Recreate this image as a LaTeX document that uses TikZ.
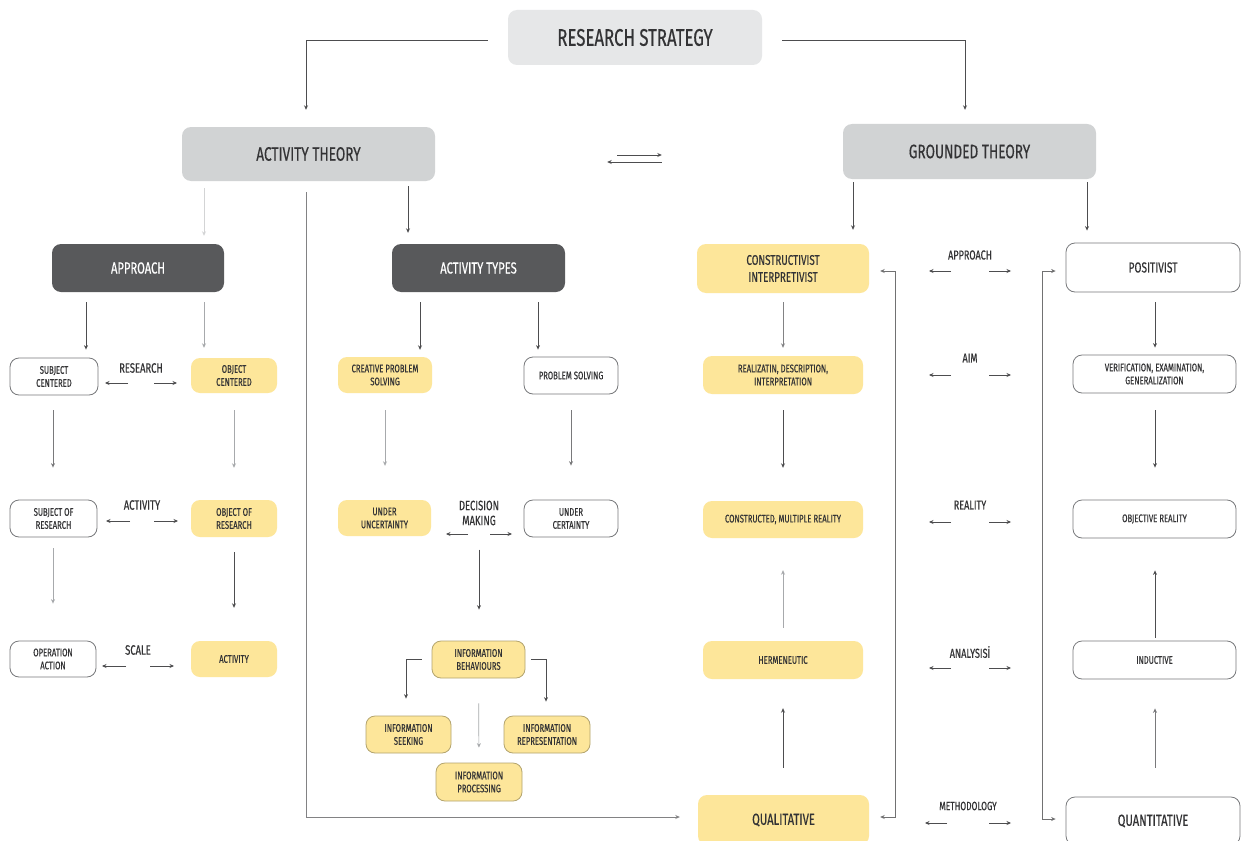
\documentclass[tikz,border=0pt]{standalone}
\usepackage{fontspec}
\setmainfont{Fira Sans}[FakeStretch=0.7,FakeBold=0.4]
\usetikzlibrary{arrows.meta,calc}
\definecolor{lg}{HTML}{E6E7E8}
\definecolor{mg}{HTML}{D1D3D4}
\definecolor{dg}{HTML}{58595B}
\definecolor{yl}{HTML}{FDE69A}
\definecolor{tx}{HTML}{333335}
\definecolor{bd}{HTML}{77787B}
\definecolor{ybd}{HTML}{B3A46E}
\definecolor{ln}{HTML}{4D4D4F}
\definecolor{lln}{HTML}{A7A9AC}
\newcommand\fs[2]{\fontsize{#1}{#2}\selectfont}
\newcommand\dbl[4]{%
  \draw[arr] ($(#1)+(-#3,#2)$) -- ($(#1)+(-#4,#2)$);
  \draw[arr] ($(#1)+(#3,#2)$) -- ($(#1)+(#4,#2)$);}
\begin{document}
\begin{tikzpicture}[x=1pt,y=-1pt,
  box/.style={rounded corners=9pt, align=center, inner sep=0pt, text=tx},
  topbox/.style={box, fill=lg, font=\fs{24}{27}},
  thbox/.style={box, fill=mg, font=\fs{19.5}{22}},
  dkbox/.style={box, fill=dg, text=white, font=\fs{16}{18}},
  ybox/.style={box, fill=yl, font=\fs{11}{13}},
  wbox/.style={box, draw=bd, line width=0.8pt, fill=white, font=\fs{11}{13}},
  ibox/.style={box, fill=yl, draw=ybd, line width=0.8pt, font=\fs{11}{13}},
  lab/.style={text=tx, align=center, inner sep=0pt, font=\fs{13.5}{15}},
  arr/.style={-{Stealth[length=4.5pt,width=4pt]}, line width=0.7pt, draw=ln},
  larr/.style={arr, draw=lln},
  barr/.style={{Stealth[length=4.5pt,width=4pt]}-{Stealth[length=4.5pt,width=4pt]}, line width=0.7pt, draw=ln!80},
]
\fill[white] (0,0) rectangle (1241,840);
\useasboundingbox (0,0) rectangle (1241,840);

% top level
\node[topbox, minimum width=254pt, minimum height=55pt] (rs) at (635,37.5) {RESEARCH STRATEGY};
\node[thbox, minimum width=253pt, minimum height=54pt] (at) at (308.5,154) {ACTIVITY THEORY};
\node[thbox, minimum width=253pt, minimum height=55pt] (gt) at (969.5,151.5) {GROUNDED THEORY};

% activity theory branch
\node[dkbox, minimum width=172pt, minimum height=48pt] (appr) at (138,268) {APPROACH};
\node[dkbox, minimum width=173pt, minimum height=48pt] (atyp) at (478.5,268) {ACTIVITY TYPES};

\node[wbox, minimum width=88pt, minimum height=37pt] (sc) at (54,376.5) {SUBJECT\\CENTERED};
\node[ybox, minimum width=86pt, minimum height=35pt] (oc) at (234,375.5) {OBJECT\\CENTERED};
\node[wbox, minimum width=87pt, minimum height=37pt] (sor) at (53.5,518.5) {SUBJECT OF\\RESEARCH};
\node[ybox, minimum width=86pt, minimum height=37pt] (oor) at (234,518.5) {OBJECT OF\\RESEARCH};
\node[wbox, minimum width=86pt, minimum height=36pt] (oa) at (53,659) {OPERATION\\ACTION};
\node[ybox, minimum width=86pt, minimum height=36pt] (act) at (234,659) {ACTIVITY};

\node[lab] (lres) at (141,368) {RESEARCH};
\node[lab] (lact) at (142,505) {ACTIVITY};
\node[lab] (lsca) at (138,650) {SCALE};

\node[ybox, minimum width=94pt, minimum height=36pt] (cps) at (385,375) {CREATIVE PROBLEM\\SOLVING};
\node[wbox, minimum width=94pt, minimum height=37pt] (ps) at (571,375.5) {PROBLEM SOLVING};
\node[ybox, minimum width=93pt, minimum height=36pt] (uu) at (384.5,518) {UNDER\\UNCERTAINTY};
\node[wbox, minimum width=94pt, minimum height=37pt] (uc) at (571,518.5) {UNDER\\CERTAINTY};
\node[lab] (ldm) at (479,513) {DECISION\\MAKING};

\node[ibox, minimum width=93pt, minimum height=37pt] (ib) at (478.5,659.5) {INFORMATION\\BEHAVIOURS};
\node[ibox, minimum width=85pt, minimum height=37pt] (is) at (408.5,734.5) {INFORMATION\\SEEKING};
\node[ibox, minimum width=86pt, minimum height=37pt] (ir) at (547,734.5) {INFORMATION\\REPRESENTATION};
\node[ibox, minimum width=86pt, minimum height=38pt] (ip) at (479,782) {INFORMATION\\PROCESSING};

% grounded theory branch
\node[ybox, minimum width=172pt, minimum height=49pt, font=\fs{14}{17}] (ci) at (783,268.5) {CONSTRUCTIVIST\\INTERPRETIVIST};
\node[wbox, minimum width=174pt, minimum height=49pt, font=\fs{14.5}{17}] (pos) at (1153,267.5) {POSITIVIST};
\node[ybox, minimum width=160pt, minimum height=38pt] (rdi) at (783,375) {REALIZATIN, DESCRIPTION,\\INTERPRETATION};
\node[wbox, minimum width=163pt, minimum height=38pt] (veg) at (1154.5,374) {VERIFICATION, EXAMINATION,\\GENERALIZATION};
\node[ybox, minimum width=160pt, minimum height=37pt] (cmr) at (783,519.5) {CONSTRUCTED, MULTIPLE REALITY};
\node[wbox, minimum width=163pt, minimum height=38pt] (obr) at (1154.5,519) {OBJECTIVE REALITY};
\node[ybox, minimum width=160pt, minimum height=38pt] (her) at (783,660) {HERMENEUTIC};
\node[wbox, minimum width=163pt, minimum height=38pt] (ind) at (1154.5,660) {INDUCTIVE};
\node[ybox, minimum width=171pt, minimum height=50pt, font=\fs{16}{18}] (qual) at (783.5,820) {QUALITATIVE};
\node[wbox, minimum width=174pt, minimum height=48pt, font=\fs{16}{18}] (quan) at (1153,821) {QUANTITATIVE};

\node[lab, font=\fs{13}{15}] (lapp) at (970,255) {APPROACH};
\node[lab, font=\fs{13}{15}] (laim) at (970,358) {AIM};
\node[lab, font=\fs{13}{15}] (lrea) at (970,505) {REALITY};
\node[lab, font=\fs{13}{15}] (lana) at (970,652) {ANALYSISİ};
\node[lab, font=\fs{12}{14}] (lmet) at (968,806) {METHODOLOGY};

% connectors: top
\draw[arr, shorten <=20pt, shorten >=17pt] ([yshift=-2.5pt]rs.west) -| ([xshift=-2.5pt]at.north);
\draw[arr, shorten <=20pt, shorten >=14pt] ([yshift=-2.5pt]rs.east) -| ([xshift=-4.5pt]gt.north);
\draw[arr, shorten <=182pt, shorten >=181pt] ([yshift=-1pt]at.east) -- ([yshift=-3.5pt]gt.west);
\draw[arr, shorten <=181pt, shorten >=172pt] ([yshift=-10.5pt]gt.west) -- ([yshift=-8pt]at.east);

\draw[larr, draw=lln!50, shorten <=7pt, shorten >=8pt] (204,0 |- at.south) -- (204,0 |- appr.north);
\draw[arr, shorten <=5pt, shorten >=11pt] (408,0 |- at.south) -- (408,0 |- atyp.north);
\draw[arr, draw=ln!70, shorten <=11pt, shorten >=18pt] (306,0 |- at.south) |- ([yshift=3pt]qual.west);

% approach column
\draw[arr, shorten <=10pt, shorten >=8pt] (86,0 |- appr.south) -- (86,0 |- sc.north);
\draw[larr, shorten <=10pt, shorten >=10pt] (204,0 |- appr.south) -- (204,0 |- oc.north);
\draw[arr, draw=ln!75, shorten <=15pt, shorten >=32pt] (53,0 |- sc.south) -- (53,0 |- sor.north);
\draw[larr, shorten <=17pt, shorten >=32pt] (234,0 |- oc.south) -- (234,0 |- oor.north);
\draw[larr, shorten <=11pt, shorten >=37pt] (53,0 |- sor.south) -- (53,0 |- oa.north);
\draw[arr, shorten <=15pt, shorten >=33pt] (234,0 |- oor.south) -- (234,0 |- act.north);
\dbl{lres}{15}{13}{36}
\dbl{lact}{16}{12}{36}
\dbl{lsca}{16}{12}{36}

% activity types column
\draw[arr, shorten <=10pt, shorten >=7pt] (420,0 |- atyp.south) -- (420,0 |- cps.north);
\draw[arr, shorten <=10pt, shorten >=7pt] (538,0 |- atyp.south) -- (538,0 |- ps.north);
\draw[larr, shorten <=17pt, shorten >=34pt] (385,0 |- cps.south) -- (385,0 |- uu.north);
\draw[arr, draw=ln!75, shorten <=16pt, shorten >=34pt] (571,0 |- ps.south) -- (571,0 |- uc.north);
\dbl{ldm}{21}{11}{33}
\draw[arr, shorten <=24pt, shorten >=31pt] (ldm.south) -- (479,0 |- ib.north);
\draw[arr, shorten <=10pt, shorten >=17pt] (ib.west) -| ([xshift=-2.5pt]is.north);
\draw[arr, shorten <=6pt, shorten >=14pt] (ib.east) -| ([xshift=-1pt]ir.north);
\draw[larr, shorten <=25pt, shorten >=15pt] (ib.south) -- (ip.north);

% grounded theory columns
\draw[arr, shorten <=3pt, shorten >=14pt] (853,0 |- gt.south) -- (853,0 |- ci.north);
\draw[arr, shorten <=3pt, shorten >=12pt] (1087,0 |- gt.south) -- (1087,0 |- pos.north);
\draw[arr, draw=ln!70, shorten <=9pt, shorten >=8pt] (ci.south) -- (rdi.north);
\draw[arr, shorten <=10pt, shorten >=7pt] (1155,0 |- pos.south) -- (1155,0 |- veg.north);
\draw[arr, shorten <=16pt, shorten >=33pt] (rdi.south) -- (cmr.north);
\draw[arr, shorten <=17pt, shorten >=32pt] (1155,0 |- veg.south) -- (1155,0 |- obr.north);
\draw[larr, shorten <=13pt, shorten >=32pt] (her.north) -- (cmr.south);
\draw[arr, shorten <=3pt, shorten >=32pt] (1155,0 |- ind.north) -- (1155,0 |- obr.south);
\draw[arr, shorten <=27pt, shorten >=29pt] (783,0 |- qual.north) -- (783,0 |- her.south);
\draw[arr, draw=ln!75, shorten <=29pt, shorten >=29pt] (1155,0 |- quan.north) -- (1155,0 |- ind.south);

\draw[barr, shorten <=11pt, shorten >=11pt] ([yshift=-2.5pt]ci.east) -- ++(26,0) |- ([yshift=3pt]qual.east);
\draw[barr, shorten <=10pt, shorten >=10pt] ([yshift=-3.5pt]pos.west) -- ++(-23,0) |- ([yshift=2pt]quan.west);

\dbl{lapp}{16}{19}{41}
\dbl{laim}{17}{19}{41}
\dbl{lrea}{17}{19}{41}
\dbl{lana}{16}{19}{41}
\dbl{lmet}{17}{21}{43}
\end{tikzpicture}
\end{document}
